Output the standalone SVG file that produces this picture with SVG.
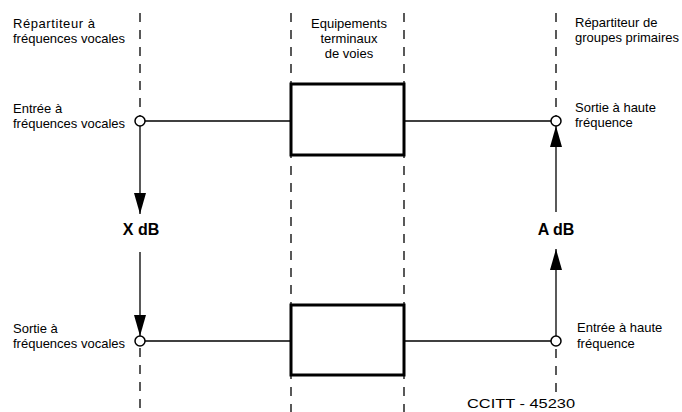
<svg xmlns="http://www.w3.org/2000/svg" width="682" height="412" viewBox="0 0 682 412">
<style>
.dash{stroke:#000;stroke-width:1.3;stroke-dasharray:9,8;fill:none}
.ln{stroke:#000;stroke-width:1.3;fill:none}
.box{stroke:#000;stroke-width:3;fill:#fff}
.term{stroke:#000;stroke-width:1.5;fill:#fff}
.t{font-family:"Liberation Sans",Arial,sans-serif;font-size:13px;fill:#000}
.b{font-family:"Liberation Sans",Arial,sans-serif;font-size:16px;font-weight:bold;fill:#000}
</style>
<defs>
<marker id="ahv" viewBox="0 0 21 12" refX="21" refY="6" markerWidth="21" markerHeight="12" markerUnits="userSpaceOnUse" orient="auto">
<path d="M0,0 L21,6 L0,12 Z" fill="#000"/>
</marker>
</defs>
<g id="guides">
<line class="dash" x1="140" y1="13" x2="140" y2="116"/>
<line class="dash" x1="140" y1="348" x2="140" y2="412"/>
<line class="dash" x1="291" y1="13" x2="291" y2="412"/>
<line class="dash" x1="404" y1="13" x2="404" y2="412"/>
<line class="dash" x1="556" y1="13" x2="556" y2="116"/>
<line class="dash" x1="556" y1="349" x2="556" y2="392"/>
</g>
<g id="connectors">
<line class="ln" x1="145" y1="121" x2="291" y2="121"/>
<line class="ln" x1="404" y1="121" x2="551" y2="121"/>
<line class="ln" x1="145" y1="341" x2="291" y2="341"/>
<line class="ln" x1="404" y1="341" x2="551" y2="341"/>
<line class="ln" x1="140" y1="126" x2="140" y2="214" stroke-width="2" marker-end="url(#ahv)"/>
<line class="ln" x1="140" y1="252" x2="140" y2="336" stroke-width="2" marker-end="url(#ahv)"/>
<line class="ln" x1="556" y1="212" x2="556" y2="126" marker-end="url(#ahv)"/>
<line class="ln" x1="556" y1="336" x2="556" y2="249" marker-end="url(#ahv)"/>
</g>
<g id="box-top"><rect class="box" x="291" y="84" width="113" height="71"/></g>
<g id="box-bottom"><rect class="box" x="291" y="305" width="113" height="70"/></g>
<g id="term-tl"><circle class="term" cx="140" cy="121" r="5"/></g>
<g id="term-tr"><circle class="term" cx="556" cy="121" r="5"/></g>
<g id="term-bl"><circle class="term" cx="140" cy="341" r="5"/></g>
<g id="term-br"><circle class="term" cx="556" cy="341" r="5"/></g>
<g id="labels">
<text class="t" x="13" y="28" textLength="82">Répartiteur à</text>
<text class="t" x="13" y="43">fréquences vocales</text>
<text class="t" x="349" y="28" text-anchor="middle">Equipements</text>
<text class="t" x="349" y="43" text-anchor="middle">terminaux</text>
<text class="t" x="349" y="58" text-anchor="middle">de voies</text>
<text class="t" x="575" y="27">Répartiteur de</text>
<text class="t" x="575" y="42">groupes primaires</text>
<text class="t" x="13" y="113">Entrée à</text>
<text class="t" x="13" y="128">fréquences vocales</text>
<text class="t" x="575" y="112">Sortie à haute</text>
<text class="t" x="575" y="127">fréquence</text>
<text class="t" x="13" y="333">Sortie à</text>
<text class="t" x="13" y="348">fréquences vocales</text>
<text class="t" x="577" y="332">Entrée à haute</text>
<text class="t" x="577" y="348">fréquence</text>
<text class="b" x="141" y="235" text-anchor="middle">X dB</text>
<text class="b" x="556" y="235" text-anchor="middle">A dB</text>
<text class="t" x="467" y="408" textLength="108" lengthAdjust="spacingAndGlyphs">CCITT - 45230</text>
</g>
</svg>
